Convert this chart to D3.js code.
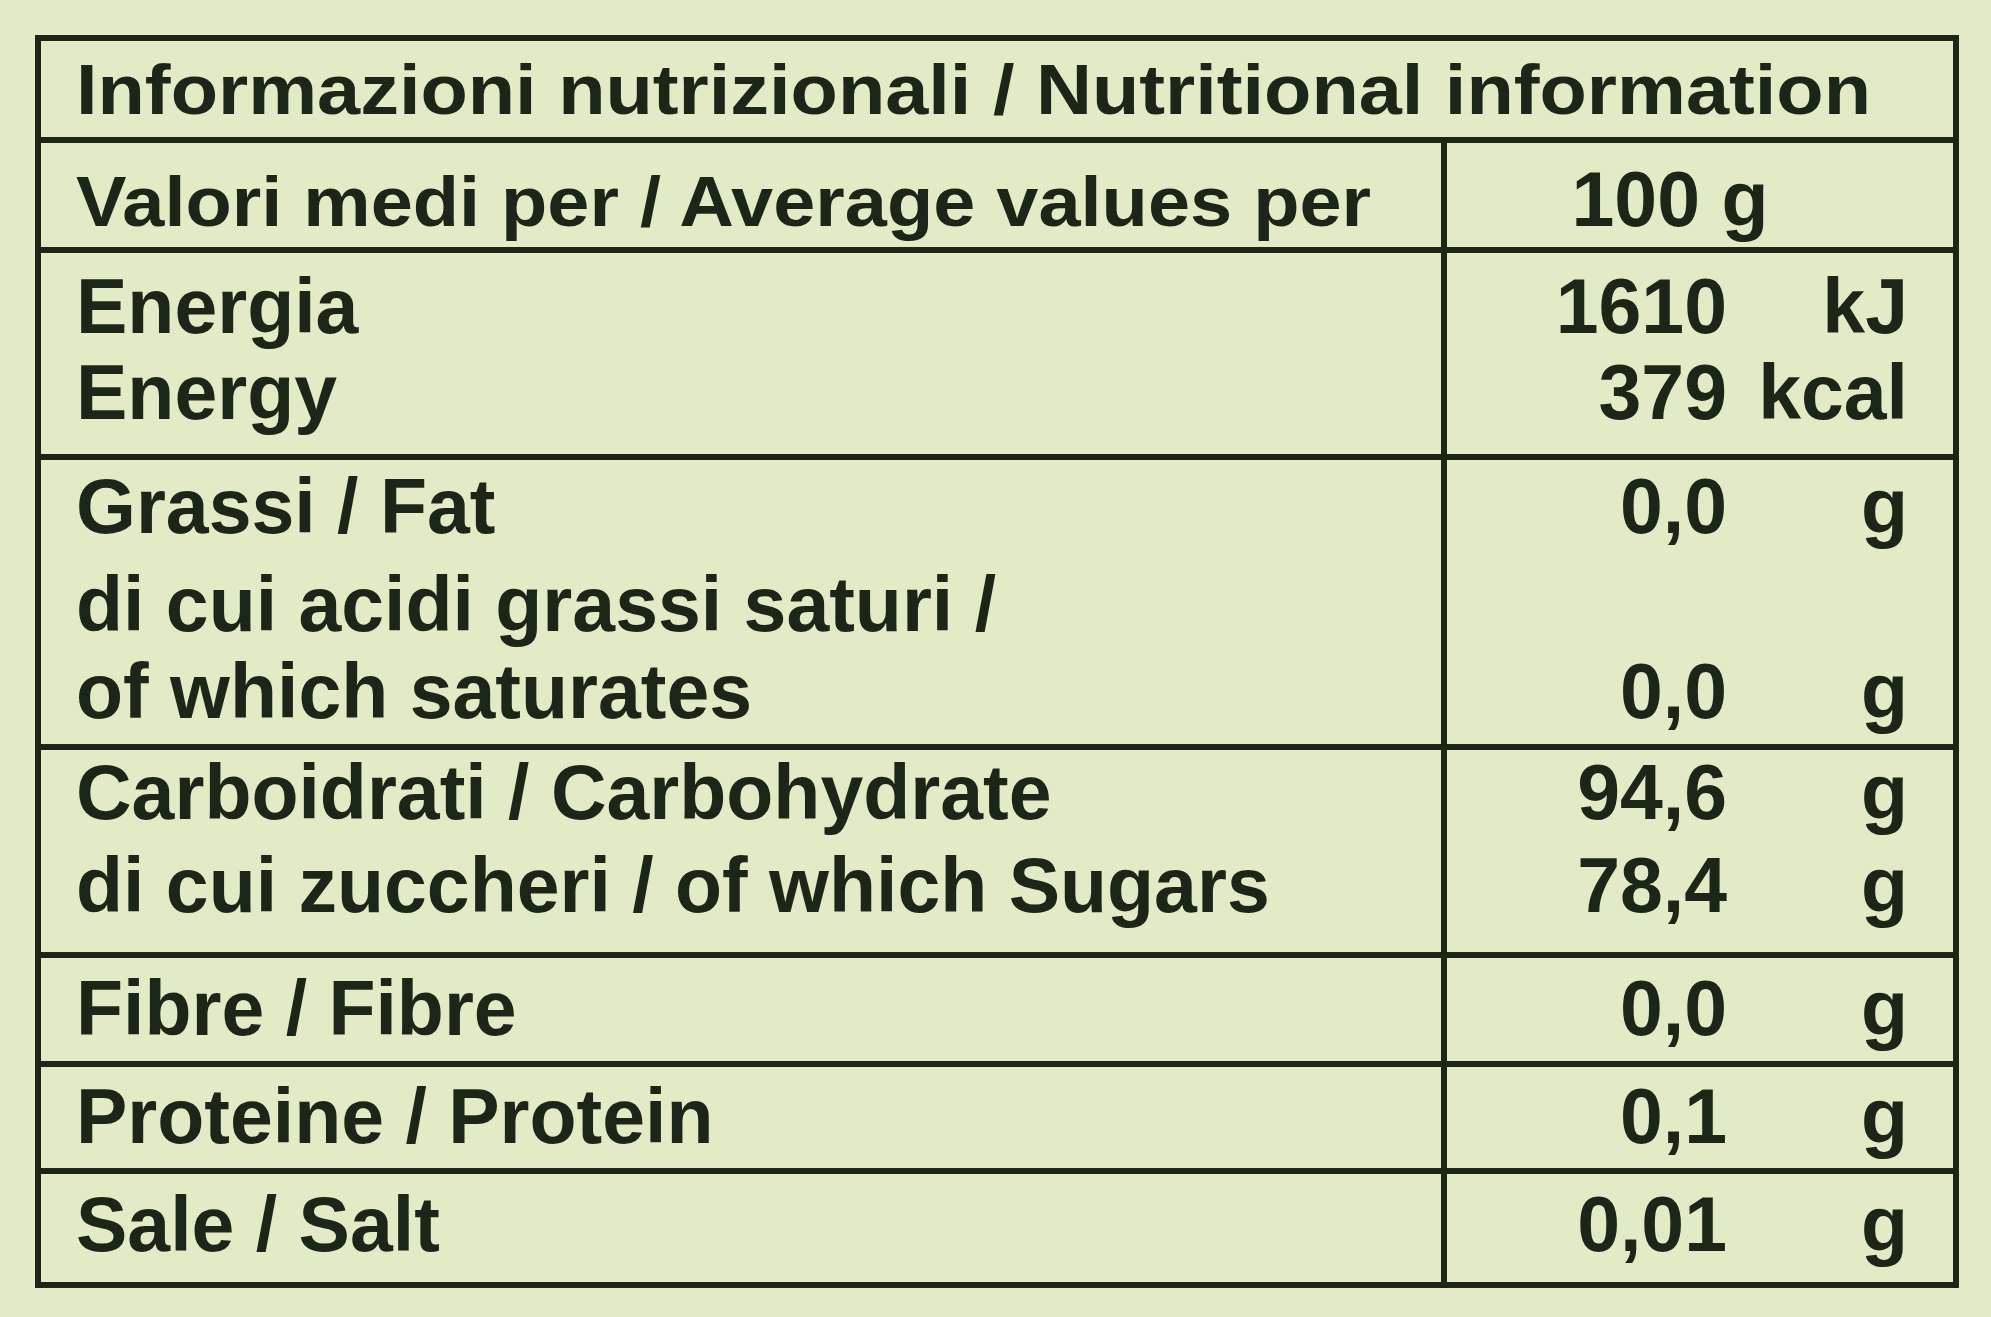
<!DOCTYPE html>
<html><head><meta charset="utf-8">
<script src="https://cdn.jsdelivr.net/npm/d3@7"></script>
<style>body{margin:0;background:#e3ebc6;}svg{display:block}</style>
</head><body>
<script>
const title = "Informazioni nutrizionali / Nutritional information";
const headerLabel = "Valori medi per / Average values per";
const headerValue = "100 g";
const sections = [
  {lines:["Energia","Energy"], values:["1610","379"], units:["kJ","kcal"]},
  {lines:["Grassi / Fat","di cui acidi grassi saturi /","of which saturates"], values:["0,0","","0,0"], units:["g","","g"]},
  {lines:["Carboidrati / Carbohydrate","di cui zuccheri / of which Sugars"], values:["94,6","78,4"], units:["g","g"]},
  {lines:["Fibre / Fibre"], values:["0,0"], units:["g"]},
  {lines:["Proteine / Protein"], values:["0,1"], units:["g"]},
  {lines:["Sale / Salt"], values:["0,01"], units:["g"]}
];
const W=1991,H=1317, ink="#1c2618";
const svg=d3.select("body").append("svg").attr("width",W).attr("height",H);
svg.append("rect").attr("width",W).attr("height",H).attr("fill","#e3ebc6");
const x0=38,x1=1956,xd=1444;
const bounds=[38,140,250,457,747,955,1064,1171,1285];
const baseY=[[114],[226],[333,419],[533,631,718],[819,912],[1035],[1143],[1251]];
const fs=77;
const g=svg.append("g").attr("font-family","Liberation Sans, Arial, sans-serif").attr("font-weight","bold").attr("fill",ink).attr("font-size",fs);
svg.append("rect").attr("x",x0).attr("y",bounds[0]).attr("width",x1-x0).attr("height",bounds[8]-bounds[0]).attr("fill","none").attr("stroke",ink).attr("stroke-width",6);
svg.selectAll("line.h").data(bounds.slice(1,-1)).join("line").attr("x1",x0).attr("x2",x1).attr("y1",d=>d).attr("y2",d=>d).attr("stroke",ink).attr("stroke-width",6);
svg.append("line").attr("x1",xd).attr("x2",xd).attr("y1",bounds[1]).attr("y2",bounds[8]).attr("stroke",ink).attr("stroke-width",6);
g.append("text").attr("x",76).attr("y",baseY[0][0]).attr("font-size",70).text(title).attr("textLength",1795).attr("lengthAdjust","spacingAndGlyphs");
g.append("text").attr("x",76).attr("y",baseY[1][0]).attr("font-size",70).text(headerLabel).attr("textLength",1295).attr("lengthAdjust","spacingAndGlyphs");
g.append("text").attr("x",1670).attr("y",baseY[1][0]).attr("text-anchor","middle").text(headerValue);
sections.forEach((s,i)=>{
  s.lines.forEach((l,j)=>{
    const y=baseY[i+2][j];
    g.append("text").attr("x",76).attr("y",y).text(l);
    if(s.values[j]) g.append("text").attr("x",1727).attr("y",y).attr("text-anchor","end").text(s.values[j]);
    if(s.units[j]) g.append("text").attr("x",1908).attr("y",y).attr("text-anchor","end").text(s.units[j]);
  });
});
</script>
</body></html>
